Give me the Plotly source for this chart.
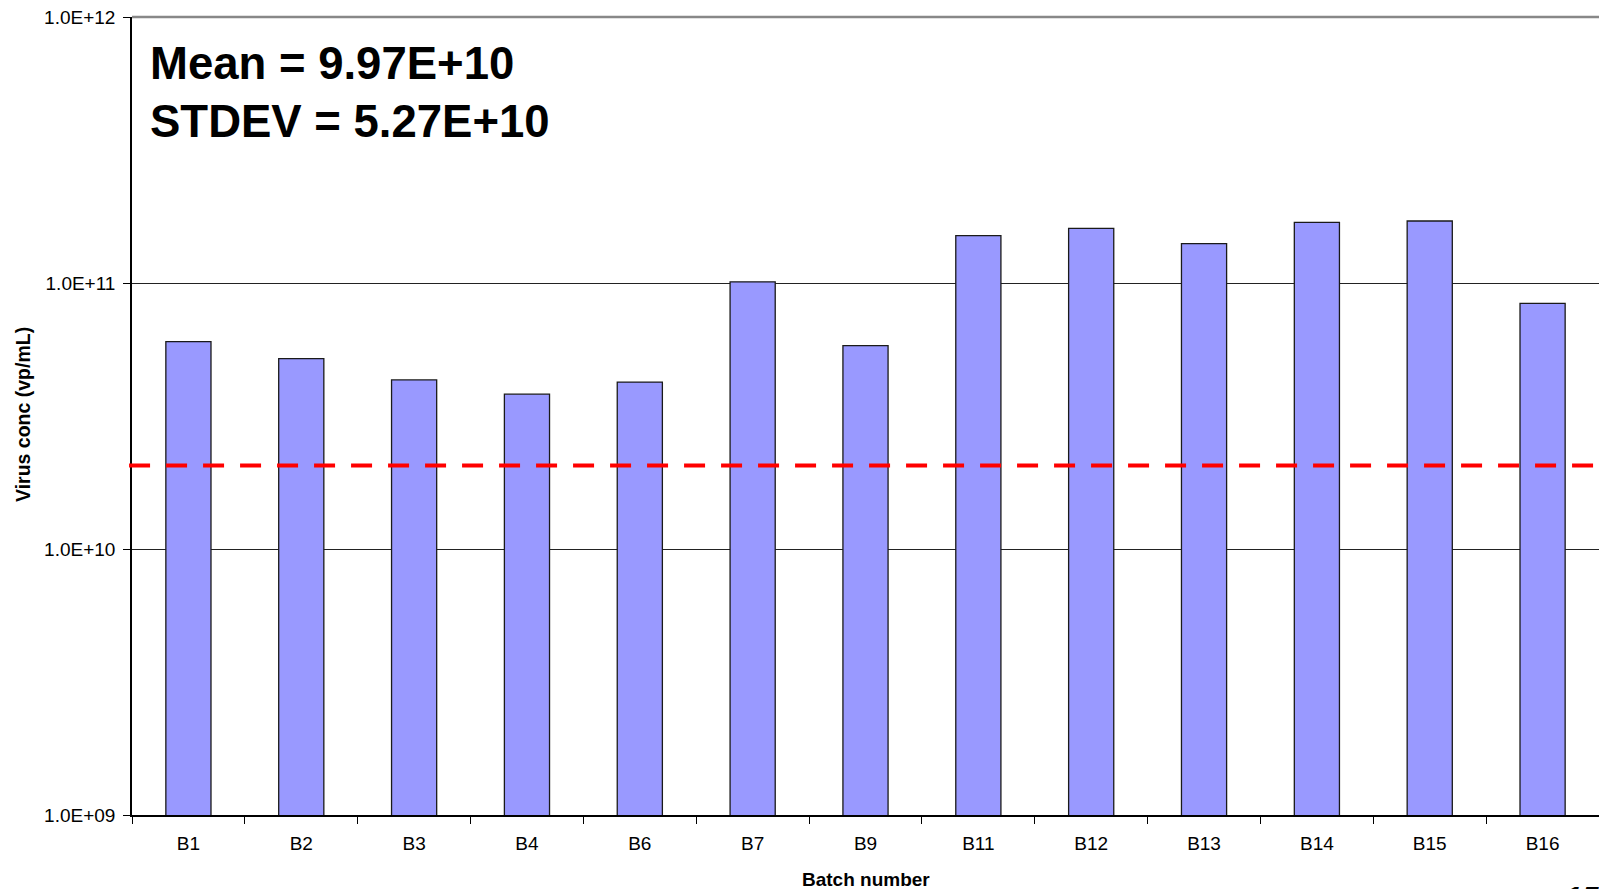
import plotly.graph_objects as go

# Batch data: virus concentration per production batch (vp/mL)
batches = ["B1", "B2", "B3", "B4", "B6", "B7", "B9", "B11", "B12", "B13", "B14", "B15", "B16"]
virus_conc = [6.02e10, 5.20e10, 4.32e10, 3.82e10, 4.24e10, 1.01e11, 5.82e10,
              1.506e11, 1.605e11, 1.405e11, 1.69e11, 1.71e11, 8.39e10]

# Specification limit drawn as a dashed reference line
spec_limit = 2.06e10

# Log-axis ticks
y_tickvals = [1e9, 1e10, 1e11, 1e12]
y_ticktext = ["1.0E+09", "1.0E+10", "1.0E+11", "1.0E+12"]

summary_lines = ["Mean = 9.97E+10", "STDEV = 5.27E+10"]

FONT = "Liberation Sans, Arial, sans-serif"

fig = go.Figure()
fig.add_trace(go.Bar(
    x=batches,
    y=virus_conc,
    marker=dict(color="#9999FF", line=dict(color="#1a1a1a", width=1.3)),
    showlegend=False,
))

fig.update_layout(
    width=1599,
    height=889,
    margin=dict(l=132, r=0, t=17, b=74),
    paper_bgcolor="white",
    plot_bgcolor="white",
    bargap=0.6,
    font=dict(family=FONT, color="black"),
)

fig.update_xaxes(
    type="category",
    range=[-0.5, len(batches) - 0.5],
    tickson="boundaries",
    ticks="outside",
    ticklen=7,
    tickcolor="black",
    tickwidth=1,
    showline=True,
    linecolor="black",
    linewidth=1.5,
    showgrid=False,
    tickfont=dict(size=19, family=FONT, color="black"),
    ticklabelstandoff=10,
)

fig.update_yaxes(
    type="log",
    range=[9, 12],
    tickvals=y_tickvals,
    ticktext=y_ticktext,
    ticks="outside",
    ticklen=7,
    tickcolor="black",
    tickwidth=1,
    showline=True,
    linecolor="black",
    linewidth=1.5,
    showgrid=True,
    gridcolor="#222222",
    gridwidth=1,
    tickfont=dict(size=19, family=FONT, color="black"),
    ticklabelstandoff=4,
)

# Top border of the plot area
fig.add_shape(type="line", xref="paper", yref="paper", x0=0, x1=1, y0=1, y1=1,
              line=dict(color="#888888", width=2.5))

# Dashed specification line
fig.add_shape(type="line", xref="paper", yref="y", x0=-0.002, x1=1,
              y0=spec_limit, y1=spec_limit,
              line=dict(color="#FF0000", width=4, dash="21px,16px"))

# Summary statistics
for i, line in enumerate(summary_lines):
    fig.add_annotation(
        text=f"<b>{line}</b>", xref="paper", yref="paper",
        x=(148 - 132) / 1467, y=1 - (63 + 58 * i - 17) / 798,
        xanchor="left", yanchor="middle", showarrow=False,
        font=dict(size=45.5, family=FONT, color="black"),
    )

# Axis titles
fig.add_annotation(
    text="<b>Batch number</b>", xref="paper", yref="paper",
    x=0.5, y=-(879 - 815) / 798, xanchor="center", yanchor="middle",
    showarrow=False, font=dict(size=19, family=FONT, color="black"),
)
fig.add_annotation(
    text="<b>Virus conc (vp/mL)</b>", xref="paper", yref="paper",
    x=(23 - 132) / 1467, y=1 - (415 - 17) / 798, xanchor="center", yanchor="middle",
    textangle=-90, showarrow=False, font=dict(size=19.5, family=FONT, color="black"),
)

# Slide number in the corner
fig.add_annotation(
    text="<b><i>15</i></b>", xref="paper", yref="paper",
    x=(1582 - 132) / 1467, y=-(878 - 815) / 798, xanchor="center", yanchor="top",
    showarrow=False, font=dict(size=30, family=FONT, color="black"),
)

fig.write_html("out.html")
